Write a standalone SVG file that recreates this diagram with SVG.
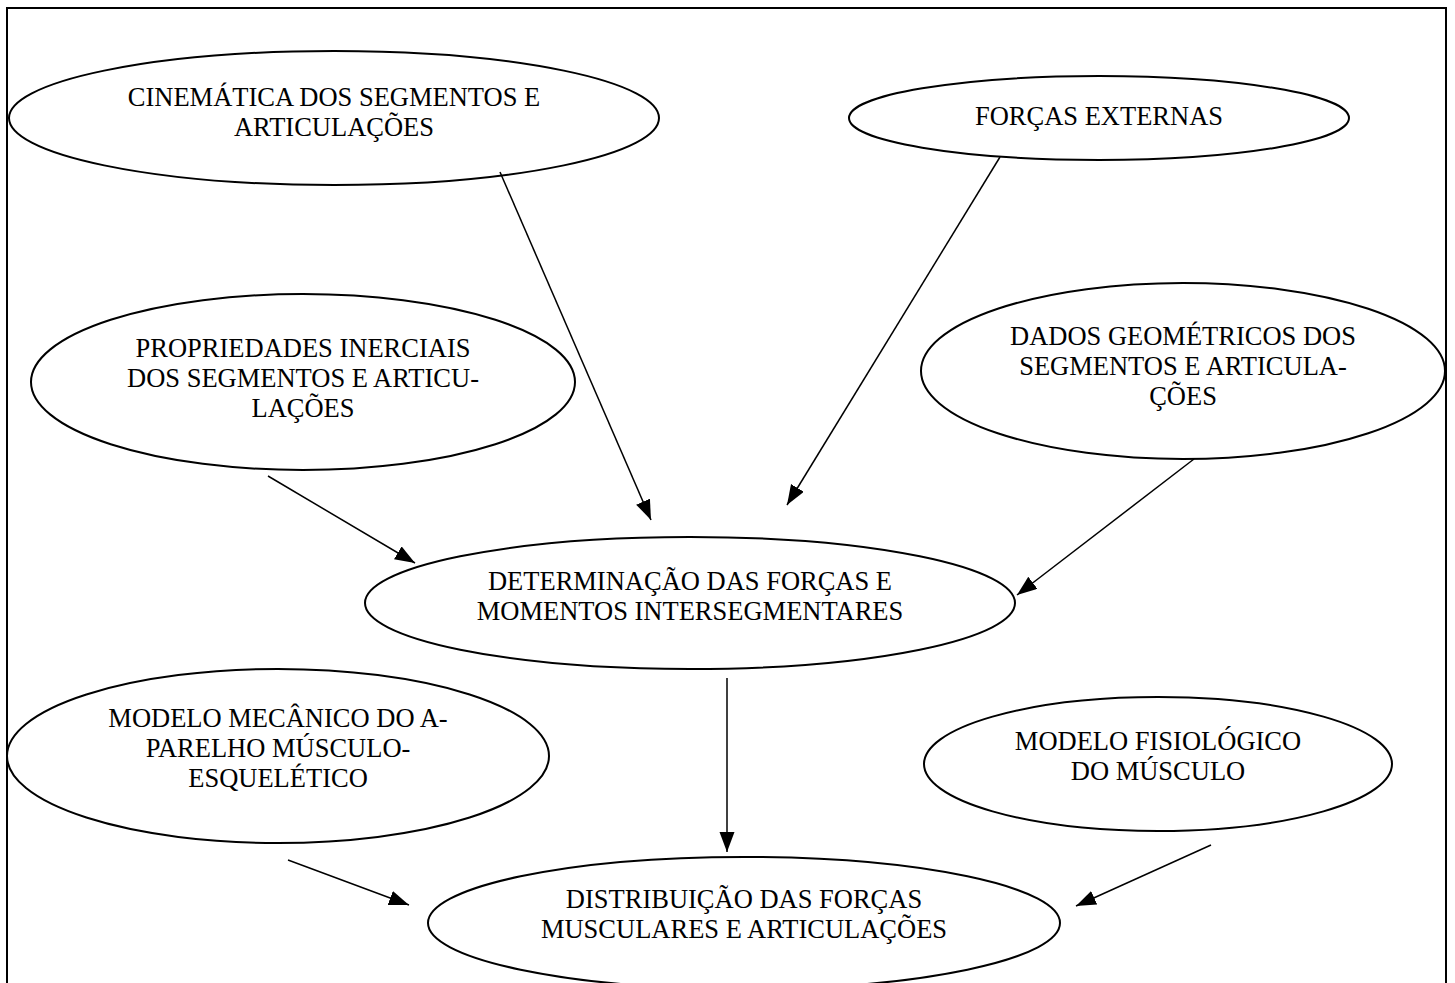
<svg xmlns="http://www.w3.org/2000/svg" width="1455" height="983" viewBox="0 0 1455 983">
<defs>
<style>
.node ellipse{fill:#fff;stroke:#000;stroke-width:2}
.node text{font-family:"Liberation Serif","Times New Roman",serif;font-size:26.5px;fill:#000;text-anchor:middle}
.edge{stroke:#000;stroke-width:1.5;fill:none;marker-end:url(#ah)}
</style>
<marker id="ah" markerUnits="userSpaceOnUse" markerWidth="22" markerHeight="16" refX="20" refY="7.5" orient="auto">
<path d="M0,0 L20,7.5 L0,15 z" fill="#000"/>
</marker>
</defs>
<rect width="1455" height="983" fill="#fff"/>
<path d="M7,983 V8 H1446 V983" fill="none" stroke="#000" stroke-width="2"/>
<g id="n-cinematica" class="node">
<ellipse cx="334" cy="118" rx="325" ry="67"/>
<text transform="translate(334,106) scale(1,1.07)" x="0" y="0">CINEMÁTICA DOS SEGMENTOS E<tspan x="0" dy="28">ARTICULAÇÕES</tspan></text>
</g>
<g id="n-forcas" class="node">
<ellipse cx="1099" cy="118" rx="250" ry="42"/>
<text transform="translate(1099,125) scale(1,1.07)" x="0" y="0">FORÇAS EXTERNAS</text>
</g>
<g id="n-propriedades" class="node">
<ellipse cx="303" cy="382" rx="272" ry="88"/>
<text transform="translate(303,357) scale(1,1.07)" x="0" y="0">PROPRIEDADES INERCIAIS<tspan x="0" dy="28">DOS SEGMENTOS E ARTICU-</tspan><tspan x="0" dy="28">LAÇÕES</tspan></text>
</g>
<g id="n-dados" class="node">
<ellipse cx="1183" cy="371" rx="262" ry="88"/>
<text transform="translate(1183,345) scale(1,1.07)" x="0" y="0">DADOS GEOMÉTRICOS DOS<tspan x="0" dy="28">SEGMENTOS E ARTICULA-</tspan><tspan x="0" dy="28">ÇÕES</tspan></text>
</g>
<g id="n-determinacao" class="node">
<ellipse cx="690" cy="603" rx="325" ry="66"/>
<text transform="translate(690,590) scale(1,1.07)" x="0" y="0">DETERMINAÇÃO DAS FORÇAS E<tspan x="0" dy="28">MOMENTOS INTERSEGMENTARES</tspan></text>
</g>
<g id="n-mecanico" class="node">
<ellipse cx="278" cy="756" rx="271" ry="87"/>
<text transform="translate(278,727) scale(1,1.07)" x="0" y="0">MODELO MECÂNICO DO A-<tspan x="0" dy="28">PARELHO MÚSCULO-</tspan><tspan x="0" dy="28">ESQUELÉTICO</tspan></text>
</g>
<g id="n-fisiologico" class="node">
<ellipse cx="1158" cy="764" rx="234" ry="67"/>
<text transform="translate(1158,750) scale(1,1.07)" x="0" y="0">MODELO FISIOLÓGICO<tspan x="0" dy="28">DO MÚSCULO</tspan></text>
</g>
<g id="n-distribuicao" class="node">
<ellipse cx="744" cy="923" rx="316" ry="66"/>
<text transform="translate(744,908) scale(1,1.07)" x="0" y="0">DISTRIBUIÇÃO DAS FORÇAS<tspan x="0" dy="28">MUSCULARES E ARTICULAÇÕES</tspan></text>
</g>
<g id="connectors">
<line class="edge" x1="500" y1="172" x2="651" y2="520"/>
<line class="edge" x1="1000" y1="157" x2="787" y2="505"/>
<line class="edge" x1="268" y1="476" x2="415" y2="563"/>
<line class="edge" x1="1194" y1="459" x2="1017" y2="595"/>
<line class="edge" x1="727" y1="678" x2="727" y2="852"/>
<line class="edge" x1="288" y1="860" x2="409" y2="905"/>
<line class="edge" x1="1211" y1="845" x2="1076" y2="906"/>
</g>
</svg>
